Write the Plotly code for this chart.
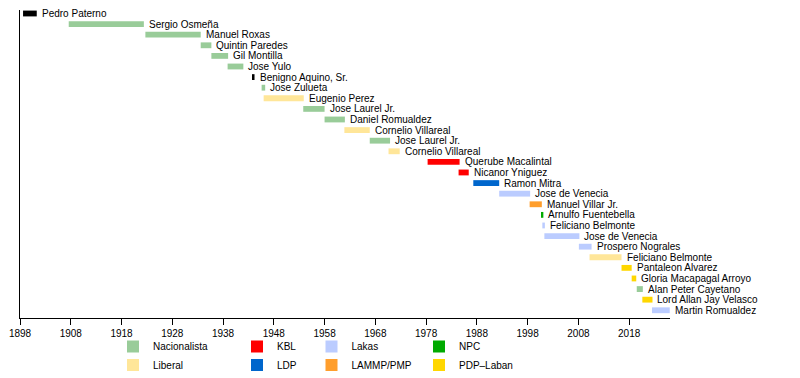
import plotly.graph_objects as go

names = ["Pedro Paterno", "Sergio Osmeña", "Manuel Roxas", "Quintin Paredes", "Gil Montilla",
         "Jose Yulo", "Benigno Aquino, Sr.", "Jose Zulueta", "Eugenio Perez", "Jose Laurel Jr.",
         "Daniel Romualdez", "Cornelio Villareal", "Jose Laurel Jr.", "Cornelio Villareal",
         "Querube Macalintal", "Nicanor Yniguez", "Ramon Mitra", "Jose de Venecia",
         "Manuel Villar Jr.", "Arnulfo Fuentebella", "Feliciano Belmonte", "Jose de Venecia",
         "Prospero Nograles", "Feliciano Belmonte", "Pantaleon Alvarez", "Gloria Macapagal Arroyo",
         "Alan Peter Cayetano", "Lord Allan Jay Velasco", "Martin Romualdez"]
starts = [1898.6, 1907.6, 1922.7, 1933.6, 1935.7, 1938.9, 1943.7, 1945.6, 1946.0, 1953.8,
          1958.0, 1961.9, 1966.9, 1970.6, 1978.3, 1984.4, 1987.3, 1992.4, 1998.4, 2000.8,
          2000.9, 2001.3, 2008.1, 2010.2, 2016.5, 2018.5, 2019.5, 2020.6, 2022.5]
ends = [1901.3, 1922.4, 1933.6, 1935.7, 1939.0, 1942.0, 1944.2, 1946.3, 1953.9, 1958.0,
        1962.0, 1966.9, 1970.9, 1972.8, 1984.6, 1986.4, 1992.4, 1998.5, 2000.8, 2001.1,
        2001.4, 2008.2, 2010.6, 2016.5, 2018.5, 2019.4, 2020.7, 2022.6, 2026.0]
parties = ["Other", "Nacionalista", "Nacionalista", "Nacionalista", "Nacionalista",
           "Nacionalista", "Other", "Nacionalista", "Liberal", "Nacionalista",
           "Nacionalista", "Liberal", "Nacionalista", "Liberal",
           "KBL", "KBL", "LDP", "Lakas", "LAMMP/PMP", "NPC", "Lakas", "Lakas",
           "Lakas", "Liberal", "PDP–Laban", "PDP–Laban", "Nacionalista", "PDP–Laban", "Lakas"]

party_order = ["Nacionalista", "Liberal", "KBL", "LDP", "Lakas", "LAMMP/PMP", "NPC", "PDP–Laban", "Other"]
party_colors = {"Nacionalista": "#99cc99", "Liberal": "#ffe699", "KBL": "#ff0000", "LDP": "#0066cc",
                "Lakas": "#bbccff", "LAMMP/PMP": "#ff9e2c", "NPC": "#00aa00", "PDP–Laban": "#ffd700",
                "Other": "#000000"}

tick_vals = list(range(1898, 2019, 10))

W, H = 800, 378
# legend placement (pixel centres of swatches)
leg_cx = {"Nacionalista": 133, "Liberal": 133, "KBL": 257, "LDP": 257,
          "Lakas": 331.5, "LAMMP/PMP": 331.5, "NPC": 439, "PDP–Laban": 439}
leg_cy = {"Nacionalista": 346.5, "Liberal": 365, "KBL": 346.5, "LDP": 365,
          "Lakas": 346.5, "LAMMP/PMP": 365, "NPC": 346.5, "PDP–Laban": 365}

fig = go.Figure()
rows = list(range(len(names)))
for li, p in enumerate(party_order):
    idx = [i for i in rows if parties[i] == p]
    lg = "legend" if (li == 0 or p == "Other") else f"legend{li + 1}"
    fig.add_trace(go.Bar(
        orientation="h",
        y=[rows[i] for i in idx],
        base=[starts[i] for i in idx],
        x=[ends[i] - starts[i] for i in idx],
        width=0.55,
        marker=dict(color=party_colors[p], line=dict(width=0)),
        name=p,
        showlegend=(p != "Other"),
        legend=lg,
    ))

for i in rows:
    fig.add_annotation(x=ends[i], y=rows[i], text=names[i], showarrow=False,
                       xanchor="left", yanchor="middle", xshift=3,
                       font=dict(size=10, color="black"))

layout_legends = {}
for li, p in enumerate(party_order[:-1]):
    key = "legend" if li == 0 else f"legend{li + 1}"
    layout_legends[key] = dict(
        x=(leg_cx[p] - 20) / W, y=1 - leg_cy[p] / H, xanchor="left", yanchor="middle",
        xref="paper", yref="paper",
        font=dict(size=10, color="black", family="Liberation Sans, Arial, sans-serif"),
        bgcolor="rgba(0,0,0,0)", borderwidth=0,
    )

fig.update_layout(
    width=W, height=H,
    margin=dict(l=0, r=0, t=0, b=0, autoexpand=False),
    paper_bgcolor="white", plot_bgcolor="white",
    barmode="overlay",
    showlegend=True,
    font=dict(family="Liberation Sans, Arial, sans-serif", size=10, color="black"),
    xaxis=dict(domain=[20 / W, 670 / W], range=[1898, 2026.05], tickmode="array",
               tickvals=tick_vals, ticktext=[str(v) for v in tick_vals],
               ticks="outside", ticklen=6, tickcolor="black", showline=True, linecolor="black",
               linewidth=1, showgrid=False, zeroline=False, tickfont=dict(size=10),
               automargin=False),
    yaxis=dict(domain=[(H - 318) / H, (H - 10) / H], range=[28.73, -0.33], showline=True,
               linecolor="black", linewidth=1, showgrid=False, zeroline=False,
               showticklabels=False, ticks="", automargin=False),
    **layout_legends,
)

fig.write_html("out.html", config={"displayModeBar": False},
               post_script="document.body.style.margin='0';document.body.style.padding='0';")
